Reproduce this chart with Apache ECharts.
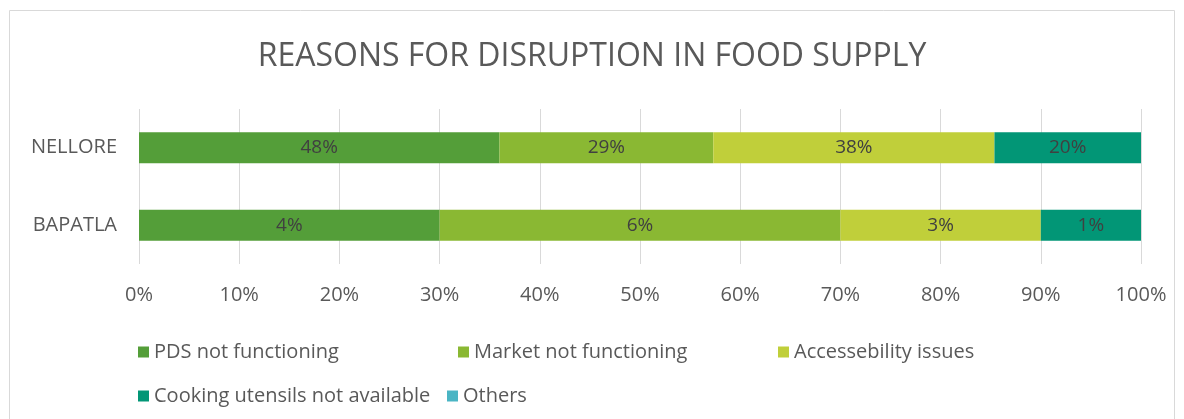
<!DOCTYPE html>
<html>
<head>
    <meta charset="utf-8">
    <script src="https://cdn.jsdelivr.net/npm/echarts@6/dist/echarts.min.js"></script>
    <style>
        body { margin: 0; background: #fff; }
    </style>
</head>
<body>
    <div id="main" style="width: 1184px;height:419px;"></div>
    <script type="text/javascript">
        // districts, top to bottom
        var districts = ['NELLORE', 'BAPATLA'];
        var reasons = ['PDS not functioning', 'Market not functioning', 'Accessebility issues',
            'Cooking utensils not available', 'Others'];
        // share of households (%) per reason, one array per reason
        var pdsNotFunctioning = [48.2, 4.41];
        var marketNotFunctioning = [28.6, 5.88];
        var accessibilityIssues = [37.6, 2.94];
        var cookingUtensils = [19.6, 1.47];
        var others = [0, 0];
        var xTicks = [0, 10, 20, 30, 40, 50, 60, 70, 80, 90, 100];

        var colors = ['#549E39', '#8AB833', '#C0CF3A', '#029676', '#4AB5C4'];
        var values = [pdsNotFunctioning, marketNotFunctioning, accessibilityIssues, cookingUtensils, others];

        // 100% stacked: normalise each district to its total
        var totals = districts.map(function (d, j) {
            var s = 0;
            for (var i = 0; i < values.length; i++) s += values[i][j];
            return s;
        });

        var font = 'Open Sans';
        var series = [];
        for (var i = 0; i < reasons.length; i++) {
            series.push({
                name: reasons[i],
                type: 'bar',
                stack: 'total',
                barWidth: 31,
                itemStyle: { color: colors[i] },
                label: {
                    show: true,
                    position: 'inside',
                    color: '#404040',
                    fontFamily: font,
                    fontSize: 19,
                    formatter: (function (idx) {
                        return function (p) {
                            var v = values[idx][p.dataIndex];
                            return v > 0 ? Math.round(v) + '%' : '';
                        };
                    })(i)
                },
                data: values[i].map(function (v, j) { return v / totals[j] * 100; })
            });
        }

        // legend laid out like the original: 3 columns, then a flowing second row
        var legendPos = [[133, 337], [453, 337], [773, 337], [133, 381], [442, 381]];
        var legends = reasons.map(function (r, i) {
            return {
                data: [r],
                left: legendPos[i][0],
                top: legendPos[i][1],
                icon: 'rect',
                itemWidth: 11,
                itemHeight: 11,
                itemGap: 5,
                textStyle: { color: '#595959', fontFamily: font, fontSize: 20 }
            };
        });

        var myChart = echarts.init(document.getElementById('main'));
        var option = {
            animation: false,
            color: colors,
            title: {
                text: 'REASONS FOR DISRUPTION IN FOOD SUPPLY',
                left: 'center',
                top: 36,
                textStyle: { color: '#595959', fontFamily: font, fontWeight: 'normal', fontSize: 32 }
            },
            graphic: [{
                type: 'rect',
                shape: { x: 9.5, y: 10.5, width: 1165, height: 420 },
                style: { fill: 'none', stroke: '#d9d9d9', lineWidth: 1 }
            }],
            legend: legends,
            grid: {
                left: 139,
                right: 43,
                top: 109,
                height: 155,
                containLabel: false
            },
            xAxis: {
                type: 'value',
                min: xTicks[0],
                max: xTicks[xTicks.length - 1],
                interval: xTicks[1] - xTicks[0],
                axisLine: { show: false },
                axisTick: { show: false },
                splitLine: { lineStyle: { color: '#d9d9d9' } },
                axisLabel: {
                    formatter: '{value}%',
                    color: '#595959',
                    fontFamily: font,
                    fontSize: 20,
                    margin: 21
                }
            },
            yAxis: {
                type: 'category',
                data: districts,
                inverse: true,
                axisLine: { show: false },
                axisTick: { show: false },
                axisLabel: {
                    color: '#595959',
                    fontFamily: font,
                    fontSize: 20,
                    margin: 22
                }
            },
            series: series
        };
        myChart.setOption(option);
    </script>
</body>
</html>
